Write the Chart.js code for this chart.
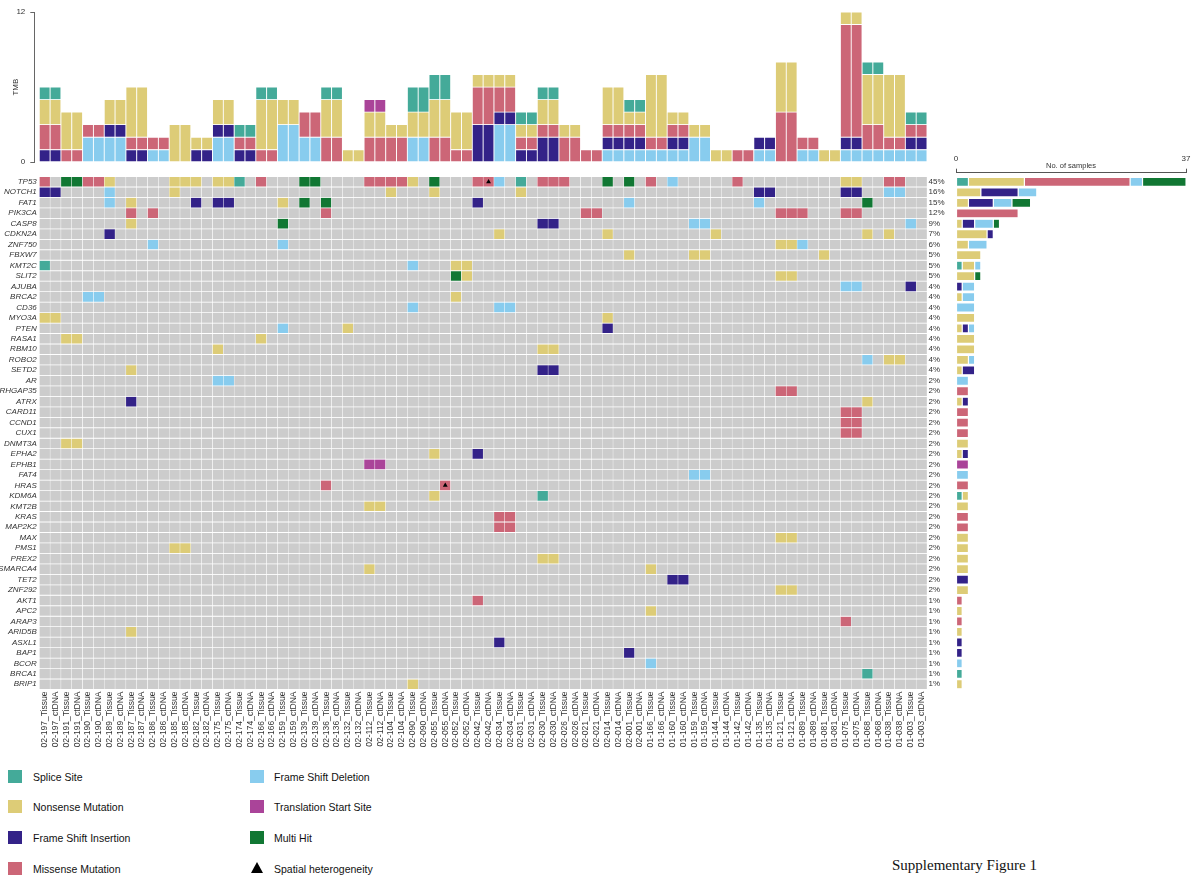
<!DOCTYPE html>
<html><head><meta charset="utf-8">
<script src="https://cdn.jsdelivr.net/npm/chart.js@4.4.1/dist/chart.umd.min.js"></script>
<style>
html,body{margin:0;padding:0;background:#fff;}
body{width:1196px;height:877px;position:relative;overflow:hidden;font-family:"Liberation Sans",Arial,sans-serif;}
.wrap{position:absolute;}
.lg{position:absolute;font-size:10.5px;color:#111;line-height:12px;white-space:nowrap;}
.sw{position:absolute;width:14px;height:13px;}
.tri{position:absolute;width:0;height:0;border-left:6px solid transparent;border-right:6px solid transparent;border-bottom:11px solid #000;}
</style></head><body>
<div class="wrap" style="left:0;top:0;width:940px;height:172px"><canvas id="tmb"></canvas></div>
<div class="wrap" style="left:0;top:168px;width:952px;height:600px"><canvas id="grid"></canvas></div>
<div class="wrap" style="left:940px;top:140px;width:256px;height:560px"><canvas id="bars"></canvas></div>

<div class="sw" style="left:8px;top:770px;background:#44AA99"></div><div class="lg" style="left:33px;top:771px">Splice Site</div>
<div class="sw" style="left:8px;top:800px;background:#DDCC77"></div><div class="lg" style="left:33px;top:801px">Nonsense Mutation</div>
<div class="sw" style="left:8px;top:831px;background:#332288"></div><div class="lg" style="left:33px;top:832px">Frame Shift Insertion</div>
<div class="sw" style="left:8px;top:862px;background:#CC6677"></div><div class="lg" style="left:33px;top:863px">Missense Mutation</div>
<div class="sw" style="left:250px;top:770px;background:#88CCEE"></div><div class="lg" style="left:274px;top:771px">Frame Shift Deletion</div>
<div class="sw" style="left:250px;top:800px;background:#AA4499"></div><div class="lg" style="left:274px;top:801px">Translation Start Site</div>
<div class="sw" style="left:250px;top:831px;background:#117733"></div><div class="lg" style="left:274px;top:832px">Multi Hit</div>
<div class="tri" style="left:251px;top:862px"></div><div class="lg" style="left:274px;top:863px">Spatial heterogeneity</div>

<div style="position:absolute;left:892px;top:857px;font-family:'Liberation Serif','Times New Roman',serif;font-size:15px;color:#111;">Supplementary Figure 1</div>

<script>
// ---------------- DATA ----------------
const samples = ['02-197_Tissue','02-197_ctDNA','02-191_Tissue','02-191_ctDNA','02-190_Tissue','02-190_ctDNA','02-189_Tissue','02-189_ctDNA','02-187_Tissue','02-187_ctDNA','02-186_Tissue','02-186_ctDNA','02-185_Tissue','02-185_ctDNA','02-182_Tissue','02-182_ctDNA','02-175_Tissue','02-175_ctDNA','02-174_Tissue','02-174_ctDNA','02-166_Tissue','02-166_ctDNA','02-159_Tissue','02-159_ctDNA','02-139_Tissue','02-139_ctDNA','02-136_Tissue','02-136_ctDNA','02-132_Tissue','02-132_ctDNA','02-112_Tissue','02-112_ctDNA','02-104_Tissue','02-104_ctDNA','02-090_Tissue','02-090_ctDNA','02-055_Tissue','02-055_ctDNA','02-052_Tissue','02-052_ctDNA','02-042_Tissue','02-042_ctDNA','02-034_Tissue','02-034_ctDNA','02-031_Tissue','02-031_ctDNA','02-030_Tissue','02-030_ctDNA','02-026_Tissue','02-026_ctDNA','02-021_Tissue','02-021_ctDNA','02-014_Tissue','02-014_ctDNA','02-001_Tissue','02-001_ctDNA','01-166_Tissue','01-166_ctDNA','01-160_Tissue','01-160_ctDNA','01-159_Tissue','01-159_ctDNA','01-144_Tissue','01-144_ctDNA','01-142_Tissue','01-142_ctDNA','01-135_Tissue','01-135_ctDNA','01-121_Tissue','01-121_ctDNA','01-089_Tissue','01-089_ctDNA','01-081_Tissue','01-081_ctDNA','01-075_Tissue','01-075_ctDNA','01-068_Tissue','01-068_ctDNA','01-038_Tissue','01-038_ctDNA','01-003_Tissue','01-003_ctDNA'];

const genes = ['TP53','NOTCH1','FAT1','PIK3CA','CASP8','CDKN2A','ZNF750','FBXW7','KMT2C','SLIT2','AJUBA','BRCA2','CD36','MYO3A','PTEN','RASA1','RBM10','ROBO2','SETD2','AR','ARHGAP35','ATRX','CARD11','CCND1','CUX1','DNMT3A','EPHA2','EPHB1','FAT4','HRAS','KDM6A','KMT2B','KRAS','MAP2K2','MAX','PMS1','PREX2','SMARCA4','TET2','ZNF292','AKT1','APC2','ARAP3','ARID5B','ASXL1','BAP1','BCOR','BRCA1','BRIP1'];

const pctLabels = ['45%','16%','15%','12%','9%','7%','6%','5%','5%','5%','4%','4%','4%','4%','4%','4%','4%','4%','4%','2%','2%','2%','2%','2%','2%','2%','2%','2%','2%','2%','2%','2%','2%','2%','2%','2%','2%','2%','2%','2%','1%','1%','1%','1%','1%','1%','1%','1%','1%'];

// mutation calls per gene: "<sampleIndex><code>", codes: S splice, N nonsense, I frame-shift ins, M missense, D frame-shift del, T translation start, H multi hit
const mutationCalls = [
 '0M 2H 3H 4M 5M 6N 12N 13N 14N 16N 17N 18S 20M 24H 25H 30M 31M 32M 33M 34N 36H 40M 41M 42D 44S 46M 47M 48M 52H 54H 56M 58D 64M 74N 75N 78M 79M',
 '0I 1I 6D 12N 32N 36N 44N 66I 67I 74I 75I 78D 79D',
 '6D 8N 14I 16I 17I 22N 24H 26H 40I 54D 66D 76H',
 '8M 10M 26M 50M 51M 68M 69M 70M 74M 75M',
 '8N 22H 46I 47I 60D 61D 80D',
 '6I 42N 52N 62N 76N 78N',
 '10D 22D 68N 69N 70D',
 '54N 60N 61N 72N',
 '0S 34D 38N 39N',
 '38H 39N 68N 69N',
 '74D 75D 80I',
 '4D 5D 38N',
 '34D 42D 43D',
 '0N 1N 52N',
 '22D 28N 52I',
 '2N 3N 20N',
 '16N 46N 47N',
 '76D 78N 79N',
 '8N 46I 47I',
 '16D 17D',
 '68M 69M',
 '8I 76N',
 '74M 75M',
 '74M 75M',
 '74M 75M',
 '2N 3N',
 '36N 40I',
 '30T 31T',
 '60D 61D',
 '26M 37M',
 '36N 46S',
 '30N 31N',
 '42M 43M',
 '42M 43M',
 '68N 69N',
 '12N 13N',
 '46N 47N',
 '30N 56N',
 '58I 59I',
 '68N 69N',
 '40M',
 '56N',
 '74M',
 '8N',
 '42I',
 '54I',
 '56D',
 '76S',
 '34N'
];

// spatial heterogeneity markers [gene, sample]
const spatialHet = [['TP53','02-042_ctDNA'],['HRAS','02-055_ctDNA']];

// TMB per sample, by variant class
const tmbFrameShiftDel = [0,0,0,0,2,2,2,2,0,0,1,1,0,0,0,0,2,2,0,0,0,0,3,3,2,2,0,0,0,0,0,0,0,0,2,2,0,0,0,0,0,0,3,3,0,0,0,0,0,0,0,0,1,1,1,1,1,1,1,1,2,2,0,0,0,0,1,1,0,0,1,1,0,0,1,1,1,1,1,1,1,1];
const tmbFrameShiftIns = [1,1,0,0,0,0,1,1,1,1,0,0,0,0,1,1,1,1,1,1,0,0,0,0,0,0,0,0,0,0,0,0,0,0,0,0,0,0,0,0,3,3,1,1,1,1,2,2,0,0,0,0,1,1,1,1,0,0,1,1,0,0,0,0,0,0,1,1,0,0,0,0,0,0,1,1,0,0,0,0,1,1];
const tmbMissense      = [2,2,1,1,1,1,0,0,1,1,1,1,0,0,0,0,0,0,1,1,1,1,0,0,2,2,2,2,0,0,2,2,2,2,0,0,2,2,1,1,3,3,2,2,1,1,1,1,2,2,1,1,1,1,1,1,1,1,1,1,0,0,0,0,1,1,0,0,4,4,1,1,0,0,9,9,2,2,1,1,1,1];
const tmbNonsense      = [2,2,3,3,0,0,2,2,4,4,0,0,3,3,1,1,2,2,0,0,4,4,2,2,0,0,3,3,1,1,2,2,1,1,2,2,3,3,3,3,1,1,1,1,1,1,2,2,1,1,0,0,3,3,1,1,5,5,1,1,1,1,1,1,0,0,0,0,4,4,0,0,1,1,1,1,4,4,5,5,0,0];
const tmbSplice        = [1,1,0,0,0,0,0,0,0,0,0,0,0,0,0,0,0,0,1,1,1,1,0,0,0,0,1,1,0,0,0,0,0,0,2,2,2,2,0,0,0,0,0,0,1,1,1,1,0,0,0,0,0,0,1,1,0,0,0,0,0,0,0,0,0,0,0,0,0,0,0,0,0,0,0,0,1,1,0,0,1,1];
const tmbTransStart    = [0,0,0,0,0,0,0,0,0,0,0,0,0,0,0,0,0,0,0,0,0,0,0,0,0,0,0,0,0,0,1,1,0,0,0,0,0,0,0,0,0,0,0,0,0,0,0,0,0,0,0,0,0,0,0,0,0,0,0,0,0,0,0,0,0,0,0,0,0,0,0,0,0,0,0,0,0,0,0,0,0,0];

const tmbTicks = [0, 12];
const countTicks = [0, 37];

// ---------------- STYLE ----------------
const COL = {S:'#44AA99', N:'#DDCC77', I:'#332288', M:'#CC6677', D:'#88CCEE', T:'#AA4499', H:'#117733'};
const GRAY = '#CCCCCC';
Chart.defaults.font.family = "'Liberation Sans', Arial, sans-serif";
Chart.defaults.color = '#333';
Chart.defaults.animation = false;

// ---------------- TMB CHART ----------------
const tmbSeries = [
  ['Frame Shift Deletion', tmbFrameShiftDel, COL.D],
  ['Frame Shift Insertion', tmbFrameShiftIns, COL.I],
  ['Missense Mutation', tmbMissense, COL.M],
  ['Nonsense Mutation', tmbNonsense, COL.N],
  ['Splice Site', tmbSplice, COL.S],
  ['Translation Start Site', tmbTransStart, COL.T]
];
new Chart(document.getElementById('tmb'), {
  type: 'bar',
  data: { datasets: tmbSeries.map(([name, vals, color]) => ({
    label: name,
    data: vals.map((v, i) => ({x: i, y: v})),
    backgroundColor: color,
    borderColor: 'rgba(255,255,255,0.75)',
    borderWidth: 0.8,
    borderSkipped: false,
    barPercentage: 1, categoryPercentage: 1
  }))},
  options: {
    responsive: true, maintainAspectRatio: false,
    layout: { padding: { left: 0, right: 13, top: 12, bottom: 4.7 } },
    plugins: { legend: { display: false }, tooltip: { enabled: false } },
    scales: {
      x: { type: 'linear', stacked: true, offset: false, min: -0.96, max: 81.5, display: false },
      y: { type: 'linear', stacked: true, min: 0, max: 12, bounds: 'data',
        afterBuildTicks: s => { s.ticks = tmbTicks.map(v => ({value: v})); },
        afterFit: s => { s.width = 34.3; },
        ticks: { font: { size: 8 }, color: '#333', padding: 5, autoSkip: false },
        grid: { drawOnChartArea: false, drawTicks: true, tickLength: 4, color: '#666' },
        border: { display: true, color: '#666', width: 1 },
        title: { display: true, text: 'TMB', font: { size: 8 }, color: '#333', padding: { top: 10.5, bottom: 0 } }
      }
    }
  }
});

// ---------------- ONCOPLOT GRID ----------------
const cellCodes = mutationCalls.map(str => {
  const row = samples.map(() => null);
  str.split(' ').forEach(tok => { row[parseInt(tok, 10)] = tok.slice(-1); });
  return row;
});
const gridDatasets = genes.map((g, r) => ({
  type: 'bar',
  label: g,
  data: samples.map(() => 1),
  backgroundColor: cellCodes[r].map(c => c ? COL[c] : GRAY),
  borderColor: '#ffffff',
  borderWidth: { top: 0.75, bottom: 0.75, left: 0.5, right: 0.5 },
  borderSkipped: false,
  barPercentage: 1, categoryPercentage: 1,
  stack: 'cells'
}));
gridDatasets.push({
  type: 'line',
  label: 'Spatial heterogeneity',
  data: spatialHet.map(([g, s]) => ({ x: s, y: genes.indexOf(g) + 0.5 })),
  showLine: false,
  pointStyle: 'triangle',
  pointRadius: 2.8,
  pointBackgroundColor: '#000',
  pointBorderColor: '#000',
  pointBorderWidth: 0,
  stack: 'tri',
  order: -1
});
const geneTicks = s => { s.ticks = genes.map((g, i) => ({ value: i + 0.5 })); };
new Chart(document.getElementById('grid'), {
  type: 'bar',
  data: { labels: samples, datasets: gridDatasets },
  options: {
    responsive: true, maintainAspectRatio: false,
    layout: { padding: { left: 0, right: 0, top: 8.5, bottom: 0 } },
    plugins: { legend: { display: false }, tooltip: { enabled: false } },
    scales: {
      x: { type: 'category', stacked: true,
        afterFit: s => { s.height = 78.5; },
        ticks: { autoSkip: false, maxRotation: 90, minRotation: 90, font: { size: 8.5 }, color: '#333', padding: 2 },
        grid: { display: false, drawTicks: false }, border: { display: false } },
      y: { type: 'linear', stacked: true, reverse: true, min: 0, max: 49, bounds: 'data', position: 'left',
        afterBuildTicks: geneTicks,
        afterFit: s => { s.width = 39.3; },
        ticks: { autoSkip: false, font: { size: 8, style: 'italic' }, color: '#333', padding: 2.5, callback: (v, i) => genes[i] },
        grid: { display: false, drawTicks: false }, border: { display: false } },
      yPct: { type: 'linear', reverse: true, min: 0, max: 49, bounds: 'data', position: 'right',
        afterBuildTicks: geneTicks,
        afterFit: s => { s.width = 25; },
        ticks: { autoSkip: false, font: { size: 8 }, color: '#333', padding: 1.5, callback: (v, i) => pctLabels[i] },
        grid: { display: false, drawTicks: false }, border: { display: false } }
    }
  }
});

// ---------------- SAMPLE COUNT BARS ----------------
const countOrder = [['Splice Site','S'],['Nonsense Mutation','N'],['Frame Shift Insertion','I'],['Missense Mutation','M'],['Frame Shift Deletion','D'],['Translation Start Site','T'],['Multi Hit','H']];
new Chart(document.getElementById('bars'), {
  type: 'bar',
  data: { datasets: countOrder.map(([name, code]) => ({
    label: name,
    data: genes.map((g, r) => {
      const n = cellCodes[r].filter(c => c === code).length;
      return { y: r, x: n > 0 ? n : null };
    }),
    backgroundColor: COL[code],
    borderColor: 'rgba(255,255,255,0.7)',
    borderWidth: 0.6,
    borderSkipped: false,
    barPercentage: 0.86, categoryPercentage: 1
  }))},
  options: {
    indexAxis: 'y',
    responsive: true, maintainAspectRatio: false,
    layout: { padding: { left: 16, right: 8, top: 0, bottom: 10.5 } },
    plugins: { legend: { display: false }, tooltip: { enabled: false } },
    scales: {
      x: { type: 'linear', position: 'top', stacked: true, min: 0, max: 37, bounds: 'data',
        afterBuildTicks: s => { s.ticks = countTicks.map(v => ({value: v})); },
        afterFit: s => { s.height = 32.7; },
        ticks: { autoSkip: false, maxRotation: 0, font: { size: 8 }, color: '#333', padding: 5.5 },
        grid: { drawOnChartArea: false, drawTicks: true, tickLength: 4, color: '#555' },
        border: { display: true, color: '#555', width: 1 },
        title: { display: true, text: 'No. of samples', font: { size: 7.5 }, color: '#333', padding: { top: 21.5, bottom: 0 } } },
      y: { type: 'linear', stacked: true, reverse: true, offset: false, min: -0.88, max: 48.5, bounds: 'data', display: false }
    }
  }
});
</script>
</body></html>
